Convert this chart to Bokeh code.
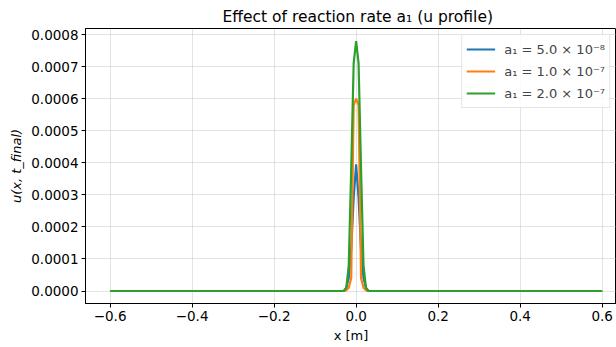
import numpy as np
from bokeh.plotting import figure
from bokeh.models import (Range1d, FixedTicker, PrintfTickFormatter, CustomJSTickFormatter,
                          Legend, LegendItem, ColumnDataSource)
from bokeh.embed import file_html
from bokeh.resources import INLINE

# ---- data ----
x_min, x_max, n_pts = -0.6, 0.6, 201
x_vals = np.linspace(x_min, x_max, n_pts)

pad = [0.0] * 95
u_a1_5e8_core = [0.0, 0.00001, 0.00004, 0.00013, 0.00029, 0.000395, 0.00029, 0.00013, 0.00004, 0.00001, 0.0]
u_a1_1e7_core = [0.0, 0.000002, 0.00001, 0.00004, 0.00058, 0.0006, 0.00058, 0.00004, 0.00001, 0.000002, 0.0]
u_a1_2e7_core = [0.0, 0.00001, 0.00008, 0.00038, 0.00071, 0.00078, 0.00071, 0.00038, 0.00008, 0.00001, 0.0]

u_a1_5e8 = pad + u_a1_5e8_core + pad
u_a1_1e7 = pad + u_a1_1e7_core + pad
u_a1_2e7 = pad + u_a1_2e7_core + pad

series_labels = ["a\u2081 = 5.0 \u00d7 10\u207b\u2078",
                 "a\u2081 = 1.0 \u00d7 10\u207b\u2077",
                 "a\u2081 = 2.0 \u00d7 10\u207b\u2077"]
series_colors = ["#1f77b4", "#ff7f0e", "#2ca02c"]

x_ticks = [-0.6, -0.4, -0.2, 0.0, 0.2, 0.4, 0.6]
y_ticks = [0.0, 0.0001, 0.0002, 0.0003, 0.0004, 0.0005, 0.0006, 0.0007, 0.0008]

FONT = "DejaVu Sans"

p = figure(width=616, height=347, output_backend="svg", toolbar_location=None,
           x_range=Range1d(-0.66, 0.635), y_range=Range1d(-0.000039, 0.000819),
           min_border_left=85, min_border_right=0, min_border_top=28, min_border_bottom=44,
           title="Effect of reaction rate a\u2081 (u profile)")

p.title.text_font = FONT
p.title.text_font_size = "15.5px"
p.title.text_font_style = "normal"
p.title.text_color = "black"
p.title.align = "left"
p.title.offset = 137
p.title.standoff = 5

items = []
for ys, lab, col in zip([u_a1_5e8, u_a1_1e7, u_a1_2e7], series_labels, series_colors):
    src = ColumnDataSource(dict(x=x_vals, y=ys))
    r = p.line("x", "y", source=src, line_color=col, line_width=2.2)
    items.append(LegendItem(label=lab, renderers=[r]))

legend = Legend(items=items, location="top_right", margin=6, padding=4, spacing=2,
                glyph_width=29, label_standoff=9,
                label_text_font=FONT, label_text_font_size="13px",
                border_line_color="#cccccc", border_line_width=1,
                background_fill_color="white", background_fill_alpha=0.85)
p.add_layout(legend)

p.xaxis.ticker = FixedTicker(ticks=x_ticks)
p.xaxis.formatter = CustomJSTickFormatter(
    code="return (tick < -1e-9 ? '\\u2212' : '') + Math.abs(tick).toFixed(1);")
p.yaxis.ticker = FixedTicker(ticks=y_ticks)
p.yaxis.formatter = PrintfTickFormatter(format="%.4f")

p.xaxis.axis_label = "x [m]"
p.yaxis.axis_label = "u(x, t_final)"
p.yaxis.axis_label_text_font_style = "italic"
p.xaxis.axis_label_text_font_style = "normal"

for ax in [p.xaxis[0], p.yaxis[0]]:
    ax.axis_label_text_font = FONT
    ax.axis_label_text_font_size = "13px"
    ax.major_label_text_font = FONT
    ax.major_label_text_font_size = "13.5px"
    ax.major_label_text_color = "black"
    ax.axis_label_text_color = "black"
    ax.axis_line_color = "black"
    ax.major_tick_line_color = "black"
    ax.major_tick_out = 4
    ax.major_tick_in = 0
    ax.minor_tick_line_color = None
    ax.major_label_standoff = 3
    ax.axis_label_standoff = 4

p.outline_line_color = "black"
p.outline_line_width = 1
p.grid.grid_line_color = "#b0b0b0"
p.grid.grid_line_alpha = 0.35
p.grid.grid_line_width = 1
p.background_fill_color = "white"
p.border_fill_color = "white"

open("out.html", "w").write(file_html(p, INLINE))
